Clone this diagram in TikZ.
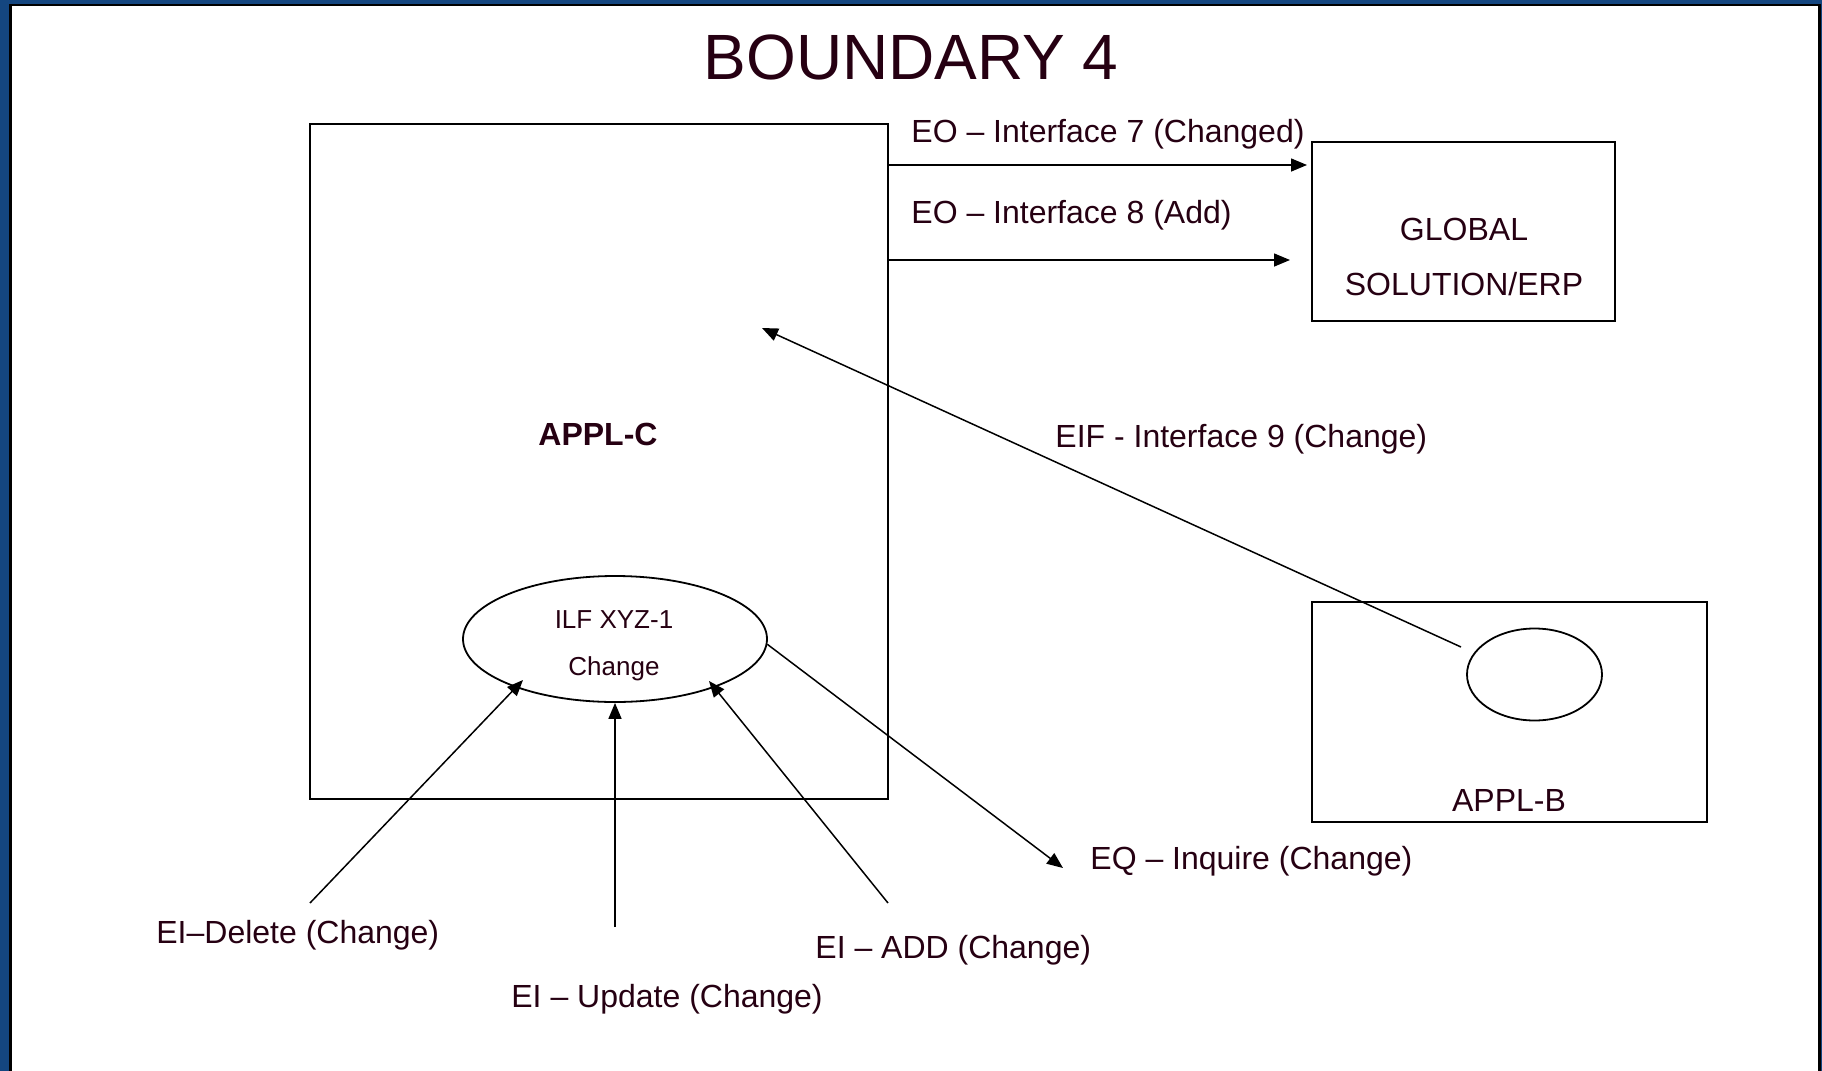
\documentclass[tikz,border=0pt]{standalone}
\usepackage{fontspec}
\setmainfont{Liberation Sans}
\usetikzlibrary{arrows.meta,shapes.geometric,calc}
\definecolor{frameblue}{RGB}{20,70,128}
\definecolor{inkred}{RGB}{38,0,18}
\begin{document}
\begin{tikzpicture}[x=0.5pt, y=-0.5pt,
    lbl/.style={text=inkred, inner sep=0pt, font=\fontsize{16}{19}\selectfont},
    small/.style={lbl, font=\fontsize{13}{16}\selectfont},
    box/.style={draw, line width=1pt, inner sep=0pt},
    store/.style={draw, ellipse, line width=0.9pt, inner sep=0pt},
    conn/.style={line width=0.75pt, -{Triangle[length=8pt,width=6.5pt]}}]
      \useasboundingbox (0,0) rectangle (1822,1071);
      %
      \fill[frameblue] (0,0) rectangle (1822,1071);
      \fill[white] (11,5) rectangle (1819,1071);
      \draw[line width=1.25pt] (10.7,1071) -- (10.7,5) -- (1819.5,5) -- (1819.5,1071);
      %
      \node[lbl, font=\fontsize{32}{38}\selectfont, anchor=base] (title) at (911,79) {BOUNDARY 4};
      %
      \node[box, minimum width=289pt, minimum height=337.5pt] (applc) at (599,461.5) {};
      \node[box, minimum width=151.5pt, minimum height=89.5pt] (erp) at (1463.5,231.5) {};
      \node[box, minimum width=197.5pt, minimum height=110pt] (applb) at (1509.5,712) {};
      \node[store, minimum width=152pt, minimum height=63pt] (ilf) at (615,639) {};
      \node[store, minimum width=67.5pt, minimum height=46pt] (bfile) at (1534.5,674.5) {};
      %
      \node[lbl, font=\bfseries\fontsize{16}{19}\selectfont, anchor=base] (applcname) at (598,445) {APPL-C};
      \node[lbl, anchor=base] (erpname1) at (1464,240.5) {GLOBAL};
      \node[lbl, anchor=base] (erpname2) at (1464,295) {SOLUTION/ERP};
      \node[lbl, anchor=base] (applbname) at (1509,811) {APPL-B};
      \node[small, anchor=base] (ilfname1) at (614,628) {ILF XYZ-1};
      \node[small, anchor=base] (ilfname2) at (614,675) {Change};
      %
      \node[lbl, anchor=base west] (eo7) at (911,142.5) {EO – Interface 7 (Changed)};
      \node[lbl, anchor=base west] (eo8) at (911,223) {EO – Interface 8 (Add)};
      \node[lbl, anchor=base west] (eif) at (1055,447.5) {EIF - Interface 9 (Change)};
      \node[lbl, anchor=base west] (eq) at (1090,869) {EQ – Inquire (Change)};
      \node[lbl, anchor=base west] (eiadd) at (815,958) {EI – ADD (Change)};
      \node[lbl, anchor=base west] (eidel) at (156,943.5) {EI–Delete (Change)};
      \node[lbl, anchor=base west] (eiupd) at (511,1007.5) {EI – Update (Change)};
      %
      \coordinate (eo7tip) at (1307,165);
      \coordinate (eo8tip) at (1290,260);
      \coordinate (eiftail) at (1461,647);
      \coordinate (eiftip) at (762,328);
      \coordinate (eqtip) at (1063,868);
      \coordinate (deltail) at (310,903);
      \coordinate (updtail) at (615,927);
      \coordinate (addtail) at (888,903);
      %
      \draw[conn] (applc.east |- eo7tip) -- (eo7tip);
      \draw[conn] (applc.east |- eo8tip) -- (eo8tip);
      \draw[conn] (eiftail) -- (eiftip);
      \draw[conn] (ilf.358) -- (eqtip);
      \draw[conn] (deltail) -- ($(ilf.center)+(-92,41)$);
      \draw[conn] (updtail) -- (ilf.south);
      \draw[conn] (addtail) -- ($(ilf.center)+(94,42)$);
      %
    \end{tikzpicture}
\end{document}
